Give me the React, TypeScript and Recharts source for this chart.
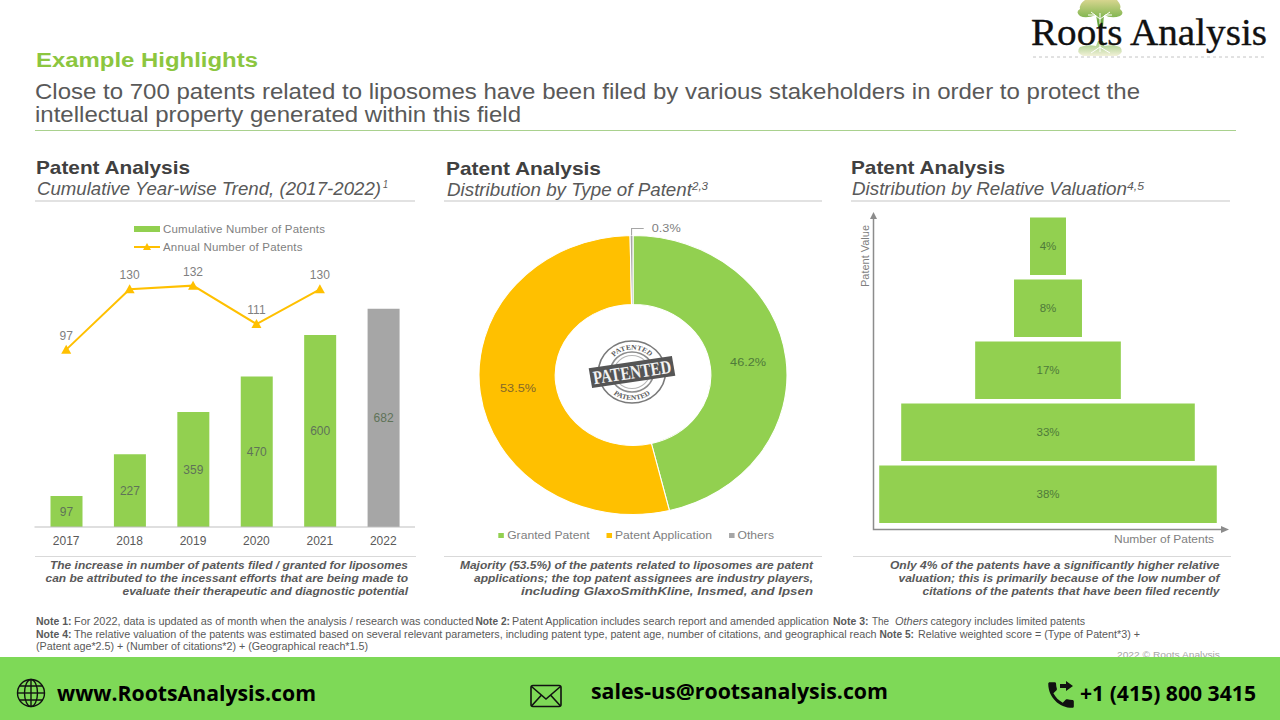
import {
  Bar,
  BarChart,
  Cell,
  ComposedChart,
  LabelList,
  Legend,
  Line,
  Pie,
  PieChart,
  XAxis,
  YAxis,
} from 'recharts';

const years = ['2017', '2018', '2019', '2020', '2021', '2022'];
const cumulativePatents = [97, 227, 359, 470, 600, 682];
const annualPatents = [97, 130, 132, 111, 130, null];

const patentTypes = ['Granted Patent', 'Patent Application', 'Others'];
const patentTypeShares = [46.2, 53.5, 0.3];
const patentTypeColors = ['#92d050', '#ffc000', '#a6a6a6'];

const valuationShares = [4, 8, 17, 33, 38];
// drawn widths in the picture are not quite the labelled percentages
const valuationWidths = [4.05, 7.65, 16.4, 33.05, 38];

const trendData = years.map((year, i) => ({
  year,
  cumulative: cumulativePatents[i],
  annual: annualPatents[i],
}));
const typeData = patentTypes.map((name, i) => ({ name, value: patentTypeShares[i] }));
const valuationData = valuationShares.map((share, i) => ({
  share,
  span: [-valuationWidths[i] / 2, valuationWidths[i] / 2],
}));

const GREEN = '#92d050';
const GOLD = '#ffc000';
const GREY = '#7f7f7f';
const DARK = '#595959';
const SANS = '"Liberation Sans", Arial, sans-serif';
const SERIF = '"Liberation Serif", serif';
const RADIAN = Math.PI / 180;

interface TxtProps {
  x: number;
  y: number;
  w: number;
  size: number;
  color?: string;
  bold?: boolean;
  italic?: boolean;
  family?: string;
  children: string;
}

// y is the vertical centre of the line; w is the width the text takes in the picture
function Txt({ x, y, w, size, color = DARK, bold, italic, family = SANS, children }: TxtProps) {
  return (
    <text
      x={x}
      y={y + size * 0.35}
      textLength={w}
      lengthAdjust='spacingAndGlyphs'
      fontSize={size}
      fill={color}
      fontWeight={bold ? 700 : 400}
      fontStyle={italic ? 'italic' : 'normal'}
      fontFamily={family}
    >
      {children}
    </text>
  );
}

function Stamp() {
  return (
    <g transform='translate(632 372) scale(1.08 1)'>
      <circle r={31} fill='none' stroke='#7a7a7a' strokeWidth={1.5} />
      <circle r={20} fill='none' stroke='#8c8c8c' strokeWidth={1.5} />
      <circle r={16.5} fill='none' stroke='#b5b5b5' strokeWidth={1} />
      <defs>
        <path id='stampTop' d='M -22.5 0 A 22.5 22.5 0 0 1 22.5 0' />
        <path id='stampBottom' d='M -28 0 A 28 28 0 0 0 28 0' />
      </defs>
      <text fontSize={7} fontWeight={700} fill='#5c5c5c' fontFamily={SERIF}>
        <textPath href='#stampTop' startOffset='50%' textAnchor='middle'>PATENTED</textPath>
      </text>
      <text fontSize={7} fontWeight={700} fill='#5c5c5c' fontFamily={SERIF}>
        <textPath href='#stampBottom' startOffset='50%' textAnchor='middle'>PATENTED</textPath>
      </text>
      <g transform='rotate(-9)'>
        <rect x={-39} y={-10} width={78} height={20} fill='#555' />
        <text x={-36.5} y={6.5} textLength={73} lengthAdjust='spacingAndGlyphs' fontSize={19} fontWeight={700} fill='#f2f2f2' fontFamily={SERIF}>
          PATENTED
        </text>
      </g>
    </g>
  );
}

function Logo() {
  return (
    <g>
      <defs>
        <linearGradient id='treeFill' x1='0' y1='0' x2='0' y2='1'>
          <stop offset='0' stopColor='#d6d58e' />
          <stop offset='0.55' stopColor='#8fbb5a' />
          <stop offset='1' stopColor='#4f9a30' />
        </linearGradient>
        <linearGradient id='rootFill' x1='0' y1='0' x2='0' y2='1'>
          <stop offset='0' stopColor='#9cc97f' />
          <stop offset='1' stopColor='#f2f1d8' />
        </linearGradient>
      </defs>
      <path
        d='M1085 0 H1117 Q1122 6 1120 9 Q1125 13 1120 16 Q1112 19 1104 15 L1103 27 H1098 L1096 15 Q1086 19 1080 16 Q1075 12 1080 9 Q1079 4 1085 0 Z'
        fill='url(#treeFill)'
      />
      <path d='M1100 24 V13 M1100 19 L1091 12 M1100 19 L1110 12 M1095 15 L1088 15 M1105 15 L1112 15' stroke='#fff' strokeWidth={1} fill='none' />
      <path
        d='M1098 41 H1103 L1104 46 Q1114 44 1120 47 Q1125 52 1117 56 H1083 Q1075 52 1080 47 Q1088 44 1096 46 Z'
        fill='url(#rootFill)'
      />
      <path d='M1100 42 V52 M1100 47 L1091 53 M1100 47 L1110 53' stroke='#fff' strokeWidth={1} fill='none' />
      <text
        x={1031}
        y={45}
        textLength={236}
        lengthAdjust='spacingAndGlyphs'
        fontSize={37}
        fontFamily={SERIF}
        fill='#111'
        stroke='#111'
        strokeWidth={0.35}
      >
        Roots Analysis
      </text>
      <line x1={1033} x2={1264} y1={57} y2={57} stroke='#c4c4c4' strokeWidth={1} strokeDasharray='3 3' />
    </g>
  );
}

function FooterIcons() {
  return (
    <g fill='none' stroke='#111'>
      <g strokeWidth={1.4}>
        <circle cx={31} cy={693} r={13.5} />
        <ellipse cx={31} cy={693} rx={6.5} ry={13.5} />
        <line x1={31} x2={31} y1={679.5} y2={706.5} />
        <line x1={17.5} x2={44.5} y1={693} y2={693} />
        <path d='M19.5 686 H42.5 M19.5 700 H42.5' />
      </g>
      <g strokeWidth={1.6}>
        <rect x={531} y={685.5} width={30} height={21} rx={2} />
        <path d='M531.5 686.5 L546 699 L560.5 686.5 M531.5 706 L541.5 695 M560.5 706 L550.5 695' />
      </g>
      <path
        transform='translate(1044 678) scale(1.42)'
        fill='#111'
        stroke='none'
        d='M6.62 10.79c1.44 2.83 3.76 5.14 6.59 6.59l2.2-2.2c.27-.27.67-.36 1.02-.24 1.12.37 2.33.57 3.57.57.55 0 1 .45 1 1V20c0 .55-.45 1-1 1-9.39 0-17-7.61-17-17 0-.55.45-1 1-1h3.5c.55 0 1 .45 1 1 0 1.25.2 2.45.57 3.57.11.35.03.74-.25 1.02l-2.2 2.2z'
      />
      <path fill='#111' stroke='none' d='M1060 684 h6 v-3 l7 5 l-7 5 v-3 h-6 z' />
    </g>
  );
}

function PageText() {
  return (
    <svg width={1280} height={720} style={{ position: 'absolute', left: 0, top: 0 }}>
      <Txt x={36} y={60} w={222} size={20} color='#8cc63f' bold>Example Highlights</Txt>
      <Txt x={35} y={91} w={1105} size={22}>Close to 700 patents related to liposomes have been filed by various stakeholders in order to protect the</Txt>
      <Txt x={35} y={114} w={486} size={22}>intellectual property generated within this field</Txt>
      <line x1={35} x2={1236} y1={130.5} y2={130.5} stroke='#a9d18e' />

      <Txt x={36} y={167.5} w={154} size={19} color='#404040' bold>Patent Analysis</Txt>
      <Txt x={37} y={189} w={344} size={18} italic>Cumulative Year-wise Trend, (2017-2022)</Txt>
      <Txt x={383} y={184} w={5} size={10} italic>1</Txt>
      <Txt x={446} y={168.5} w={155} size={19} color='#404040' bold>Patent Analysis</Txt>
      <Txt x={447} y={190} w={245} size={18} italic>Distribution by Type of Patent</Txt>
      <Txt x={692} y={186} w={16} size={10} italic>2,3</Txt>
      <Txt x={851} y={167.5} w={154} size={19} color='#404040' bold>Patent Analysis</Txt>
      <Txt x={852} y={189} w={275} size={18} italic>Distribution by Relative Valuation</Txt>
      <Txt x={1127} y={186} w={17} size={10} italic>4,5</Txt>

      <line x1={35} x2={415} y1={201} y2={201} stroke='#d9d9d9' strokeWidth={1.5} />
      <line x1={444} x2={822} y1={201} y2={201} stroke='#d9d9d9' strokeWidth={1.5} />
      <line x1={851} x2={1230} y1={201} y2={201} stroke='#d9d9d9' strokeWidth={1.5} />
      <line x1={35} x2={416} y1={556.5} y2={556.5} stroke='#d9d9d9' />
      <line x1={444} x2={822} y1={556.5} y2={556.5} stroke='#d9d9d9' />
      <line x1={853} x2={1231} y1={556.5} y2={556.5} stroke='#d9d9d9' />

      <Stamp />

      {/* axes of the valuation panel */}
      <g stroke='#8c8c8c' strokeWidth={1.5} fill='#8c8c8c'>
        <path d='M873.5 218 V529.5 H1222' fill='none' />
        <path d='M873.5 212 L870 219 H877 Z' stroke='none' />
        <path d='M1229 529.5 L1221 526 V533 Z' stroke='none' />
      </g>
      <g transform='translate(865 287) rotate(-90)'>
        <Txt x={0} y={0} w={62} size={11} color={GREY}>Patent Value</Txt>
      </g>
      <Txt x={1114} y={538.5} w={100} size={11.5} color={GREY}>Number of Patents</Txt>

      <Txt x={50} y={565.5} w={358} size={11} bold italic>The increase in number of patents filed / granted for liposomes</Txt>
      <Txt x={45.5} y={578.5} w={362.5} size={11} bold italic>can be attributed to the incessant efforts that are being made to</Txt>
      <Txt x={122.5} y={591.5} w={285.5} size={11} bold italic>evaluate their therapeutic and diagnostic potential</Txt>
      <Txt x={460} y={565.5} w={353} size={11} bold italic>Majority (53.5%) of the patents related to liposomes are patent</Txt>
      <Txt x={474} y={578.5} w={339} size={11} bold italic>applications; the top patent assignees are industry players,</Txt>
      <Txt x={521} y={591.5} w={292} size={11} bold italic>including GlaxoSmithKline, Insmed, and Ipsen</Txt>
      <Txt x={890} y={565.5} w={329.5} size={11} bold italic>Only 4% of the patents have a significantly higher relative</Txt>
      <Txt x={898.5} y={578.5} w={321} size={11} bold italic>valuation; this is primarily because of the low number of</Txt>
      <Txt x={922.5} y={591.5} w={297} size={11} bold italic>citations of the patents that have been filed recently</Txt>

      <Txt x={36} y={621.5} w={35.5} size={10} bold>Note 1:</Txt>
      <Txt x={74} y={621.5} w={399.5} size={10}>For 2022, data is updated as of month when the analysis / research was conducted</Txt>
      <Txt x={475.5} y={621.5} w={34.5} size={10} bold>Note 2:</Txt>
      <Txt x={512} y={621.5} w={317} size={10}>Patent Application includes search report and amended application</Txt>
      <Txt x={833} y={621.5} w={35.5} size={10} bold>Note 3:</Txt>
      <Txt x={872} y={621.5} w={17} size={10}>The</Txt>
      <Txt x={895} y={621.5} w={33} size={10} italic>Others</Txt>
      <Txt x={930.5} y={621.5} w={154.5} size={10}>category includes limited patents</Txt>
      <Txt x={36} y={634} w={35.5} size={10} bold>Note 4:</Txt>
      <Txt x={74} y={634} w={802.5} size={10}>The relative valuation of the patents was estimated based on several relevant parameters, including patent type, patent age, number of citations, and geographical reach</Txt>
      <Txt x={879.5} y={634} w={34.5} size={10} bold>Note 5:</Txt>
      <Txt x={918} y={634} w={222} size={10}>Relative weighted score = (Type of Patent*3) +</Txt>
      <Txt x={36} y={646} w={332} size={10}>(Patent age*2.5) + (Number of citations*2) + (Geographical reach*1.5)</Txt>
      <Txt x={1117} y={655} w={103} size={9.5} color='#a6a6a6'>2022 © Roots Analysis</Txt>

      <rect x={0} y={657} width={1280} height={63} fill='#7ed957' />
      <FooterIcons />
      <Txt x={57} y={693} w={259} size={22} color='#000' bold family='"Open Sans", sans-serif'>www.RootsAnalysis.com</Txt>
      <Txt x={591} y={691} w={297} size={22} color='#000' bold family='"Open Sans", sans-serif'>sales-us@rootsanalysis.com</Txt>
      <Txt x={1080} y={693} w={176} size={22} color='#000' bold family='"Open Sans", sans-serif'>+1 (415) 800 3415</Txt>

      <Logo />
    </svg>
  );
}

function TrendLegend() {
  const rowStyle = { display: 'flex', alignItems: 'center', height: 18, whiteSpace: 'nowrap' as const };
  return (
    <div style={{ fontFamily: SANS, fontSize: 11.5, letterSpacing: 0.2, color: GREY }}>
      <div style={rowStyle}>
        <svg width={30} height={10}><rect x={1} y={2} width={26} height={6} fill={GREEN} /></svg>
        Cumulative Number of Patents
      </div>
      <div style={rowStyle}>
        <svg width={30} height={10}>
          <line x1={1} x2={27} y1={5} y2={5} stroke={GOLD} strokeWidth={2} />
          <polygon points='14,1 18,8 10,8' fill={GOLD} />
        </svg>
        Annual Number of Patents
      </div>
    </div>
  );
}

function TriangleDot({ cx, cy, index }: any) {
  if (cy == null || cx == null) return <g key={index} />;
  return <polygon key={index} points={`${cx},${cy - 5} ${cx + 5},${cy + 4} ${cx - 5},${cy + 4}`} fill={GOLD} />;
}

function TrendChart() {
  return (
    <div style={{ position: 'absolute', left: 0, top: 200, width: 450, height: 352 }}>
      <ComposedChart
        width={450}
        height={352}
        data={trendData}
        margin={{ top: 7, right: 35, bottom: 1, left: 34.5 }}
      >
        <XAxis
          dataKey='year'
          height={24}
          tickLine={false}
          axisLine={{ stroke: '#bfbfbf' }}
          tick={{ fontSize: 12, fill: DARK, fontFamily: SANS }}
          tickMargin={3}
        />
        <YAxis yAxisId='cumulative' hide domain={[0, 1000]} />
        <YAxis yAxisId='annual' hide orientation='right' domain={[0, 175]} />
        {/* horizontal + middle keeps the legend out of the plot offset */}
        <Legend
          layout='horizontal'
          align='center'
          verticalAlign='middle'
          content={TrendLegend}
          wrapperStyle={{ left: 133, top: 20, width: 240 }}
        />
        <Bar yAxisId='cumulative' dataKey='cumulative' barSize={32} isAnimationActive={false} legendType='none'>
          {years.map((year) => (
            <Cell key={year} fill={year === '2022' ? '#a6a6a6' : GREEN} />
          ))}
          <LabelList dataKey='cumulative' position='center' fontSize={12} fill='#5f7358' fontFamily={SANS} />
        </Bar>
        <Line
          yAxisId='annual'
          dataKey='annual'
          stroke={GOLD}
          strokeWidth={2}
          dot={TriangleDot}
          connectNulls={false}
          isAnimationActive={false}
        >
          <LabelList dataKey='annual' position='top' offset={10} fontSize={12} fill={GREY} fontFamily={SANS} />
        </Line>
      </ComposedChart>
    </div>
  );
}

function SliceLabel({ cx, cy, midAngle, innerRadius, outerRadius, value, index }: any) {
  if (index === 2) {
    const x = cx + outerRadius * Math.cos(-midAngle * RADIAN);
    const top = cy - outerRadius - 7;
    return (
      <g>
        <path d={`M${x} ${cy - outerRadius} V${top} H${x + 11}`} fill='none' stroke='#a6a6a6' />
        <text x={cx + 17} y={top + 4} fontSize={11.5} fill={GREY} fontFamily={SANS}>{`${value}%`}</text>
      </g>
    );
  }
  const r = (innerRadius + outerRadius) / 2;
  return (
    <text
      x={cx + r * Math.cos(-midAngle * RADIAN)}
      y={cy + r * Math.sin(-midAngle * RADIAN)}
      textAnchor='middle'
      dominantBaseline='central'
      fontSize={11.5}
      fill={index === 0 ? '#4f7a3a' : '#85682a'}
      fontFamily={SANS}
    >
      {`${value}%`}
    </text>
  );
}

function TypeLegend() {
  return (
    <div style={{ display: 'flex', fontFamily: SANS, fontSize: 11, color: GREY, whiteSpace: 'nowrap' }}>
      {patentTypes.map((name, i) => (
        <span key={name} style={{ display: 'flex', alignItems: 'center', marginRight: 15 }}>
          <span style={{ width: 5, height: 5, marginRight: 3, background: patentTypeColors[i] }} />
          {name}
        </span>
      ))}
    </div>
  );
}

// the donut in the picture is wider than tall, text included, so the whole chart is stretched
function TypeChart() {
  return (
    <div
      style={{
        position: 'absolute',
        left: 463,
        top: 200,
        width: 340,
        height: 350,
        transform: 'scaleX(1.104)',
        transformOrigin: '170px 175px',
      }}
    >
      <PieChart width={340} height={350} margin={{ top: 0, right: 0, bottom: 0, left: 0 }}>
        <Legend
          layout='horizontal'
          align='center'
          verticalAlign='middle'
          content={TypeLegend}
          wrapperStyle={{ left: 48, top: 329, width: 280 }}
        />
        <Pie
          data={typeData}
          dataKey='value'
          nameKey='name'
          cx={170}
          cy={175}
          innerRadius={70.5}
          outerRadius={139.5}
          startAngle={90}
          endAngle={-270}
          stroke='#fff'
          strokeWidth={1}
          label={SliceLabel}
          labelLine={false}
          isAnimationActive={false}
        >
          {patentTypes.map((name, i) => (
            <Cell key={name} fill={patentTypeColors[i]} />
          ))}
        </Pie>
      </PieChart>
    </div>
  );
}

function ValuationChart() {
  return (
    <div style={{ position: 'absolute', left: 840, top: 205, width: 400, height: 330 }}>
      <BarChart
        width={400}
        height={330}
        layout='vertical'
        data={valuationData}
        margin={{ top: 10.5, right: 17, bottom: 9.5, left: 33 }}
      >
        <XAxis type='number' hide domain={[-19.7, 19.7]} />
        <YAxis type='category' hide dataKey='share' />
        <Bar dataKey='span' fill={GREEN} barSize={57.5} isAnimationActive={false}>
          <LabelList
            dataKey='share'
            position='center'
            formatter={(v: any) => `${v}%`}
            fontSize={11.5}
            fill='#4f7a3a'
            fontFamily={SANS}
          />
        </Bar>
      </BarChart>
    </div>
  );
}

export default function App() {
  return (
    <div
      style={{
        position: 'absolute',
        left: 0,
        top: 0,
        width: 1280,
        height: 720,
        overflow: 'hidden',
        background: '#fff',
      }}
    >
      <PageText />
      <TrendChart />
      <TypeChart />
      <ValuationChart />
    </div>
  );
}
